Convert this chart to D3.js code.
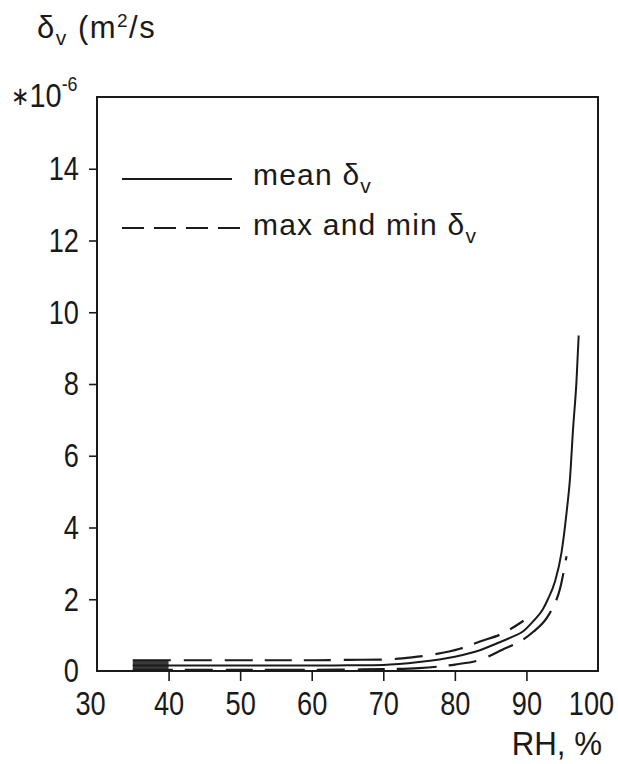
<!DOCTYPE html>
<html>
<head>
<meta charset="utf-8">
<script src="https://cdn.jsdelivr.net/npm/d3@7"></script>
<style>
  html, body { margin: 0; padding: 0; background: #fff; }
  svg text { font-family: "Liberation Sans", "Arimo", "DejaVu Sans", sans-serif; fill: #1a1a1a; }
</style>
</head>
<body>
<svg id="chart" width="618" height="764"></svg>
<script>
// Vapour diffusivity δv (×10⁻⁶ m²/s) against relative humidity
const xTicks = [30, 40, 50, 60, 70, 80, 90, 100];
const yTicks = [0, 2, 4, 6, 8, 10, 12, 14];

const meanRH = [35, 40, 45, 50, 55, 60, 65, 70, 75, 80, 83.5, 86, 88, 89.5, 91, 92.3, 93, 94, 94.9, 95.6, 96.1, 96.5, 97, 97.3];
const meanDv = [0.15, 0.15, 0.15, 0.15, 0.15, 0.15, 0.16, 0.17, 0.25, 0.4, 0.58, 0.78, 0.95, 1.1, 1.4, 1.72, 2.0, 2.5, 3.3, 4.4, 5.4, 6.7, 8.1, 9.35];

const maxRH = [35, 40, 45, 50, 55, 60, 65, 70, 74, 77, 80.7, 83.5, 86.7, 89.6];
const maxDv = [0.3, 0.3, 0.3, 0.3, 0.3, 0.3, 0.31, 0.32, 0.38, 0.46, 0.62, 0.82, 1.05, 1.4];

const minRH = [35, 40, 45, 50, 55, 60, 65, 70, 75, 80, 83.5, 86.7, 89.5, 91, 92.8, 93.5, 94.7, 95.6];
const minDv = [0.03, 0.03, 0.03, 0.03, 0.03, 0.03, 0.04, 0.05, 0.08, 0.18, 0.31, 0.6, 0.87, 1.1, 1.47, 1.7, 2.3, 3.2];

const legendLabels = ["mean", "max and min"];

const svg = d3.select("#chart");
const x = d3.scaleLinear().domain([30, 100]).range([97, 598]);
const y = d3.scaleLinear().domain([0, 16]).range([671, 97]);

const ink = "#1a1a1a";

// squeeze text horizontally about its anchor point (condensed lettering)
function narrow(sel, s) {
  sel.each(function () {
    const t = d3.select(this);
    const ax = +t.attr("x") || 0;
    t.attr("transform", `translate(${ax},0) scale(${s},1) translate(${-ax},0)`);
  });
}

// plot frame
svg.append("rect")
  .attr("x", x(30)).attr("y", y(16))
  .attr("width", x(100) - x(30)).attr("height", y(0) - y(16))
  .attr("fill", "none").attr("stroke", ink).attr("stroke-width", 2);

// x axis: outward ticks on the inner values, labels below
const xAxis = svg.append("g").attr("transform", `translate(0,${y(0)})`)
  .call(d3.axisBottom(x).tickValues(xTicks).tickSize(10).tickPadding(10).tickFormat(d3.format("d")));
xAxis.select(".domain").remove();
xAxis.selectAll(".tick line").attr("stroke", ink).attr("stroke-width", 1.6)
  .attr("display", d => (d === 30 || d === 100) ? "none" : null);
xAxis.selectAll(".tick text").attr("font-size", 34).attr("fill", ink)
  .attr("x", d => (d === 30 || d === 100) ? -7 : 0)
  .call(narrow, 0.8);

// y axis
const yAxis = svg.append("g").attr("transform", `translate(${x(30)},0)`)
  .call(d3.axisLeft(y).tickValues(yTicks).tickSize(8).tickPadding(10).tickFormat(d3.format("d")));
yAxis.select(".domain").remove();
yAxis.selectAll(".tick line").attr("stroke", ink).attr("stroke-width", 1.6)
  .attr("display", d => d === 0 ? "none" : null);
yAxis.selectAll(".tick text").attr("font-size", 34).attr("fill", ink).call(narrow, 0.8);

// curves
const toPts = (xs, ys) => xs.map((v, i) => [v, ys[i]]);
const line = d3.line().x(d => x(d[0])).y(d => y(d[1])).curve(d3.curveMonotoneX);

const meanPts = toPts(meanRH, meanDv);
const maxPts = toPts(maxRH, maxDv);
const minPts = toPts(minRH, minDv);

// dense overlap of the three traces at the low-humidity start
const startBand = d3.area()
  .x(d => x(d[0])).y0(d => y(d[1][0])).y1(d => y(d[1][1]));
const bandData = maxPts.filter(d => d[0] <= 40.5).map((d, i) => [d[0], [minDv[i], d[1]]]);
svg.append("path").datum(bandData).attr("d", startBand).attr("fill", "#3a3a3a");

svg.append("path").datum(meanPts).attr("d", line)
  .attr("fill", "none").attr("stroke", ink).attr("stroke-width", 2);
svg.append("path").datum(maxPts).attr("d", line)
  .attr("fill", "none").attr("stroke", ink).attr("stroke-width", 2.2)
  .attr("stroke-dasharray", "38,13,28,13,28,12,27,12,27,13");
svg.append("path").datum(minPts).attr("d", line)
  .attr("fill", "none").attr("stroke", ink).attr("stroke-width", 2.2)
  .attr("stroke-dasharray", "40,12,28,13,27,12");

// legend
const leg = svg.append("g");
leg.append("line").attr("x1", 122).attr("x2", 232).attr("y1", 179).attr("y2", 179)
  .attr("stroke", ink).attr("stroke-width", 1.8);
leg.append("line").attr("x1", 122).attr("x2", 240).attr("y1", 228).attr("y2", 228)
  .attr("stroke", ink).attr("stroke-width", 1.8).attr("stroke-dasharray", "22,10");

const legendRows = [185, 235];
legendLabels.forEach((lab, i) => {
  const t = leg.append("text").attr("x", 253).attr("y", legendRows[i])
    .attr("font-size", 30).attr("letter-spacing", 1.2);
  t.append("tspan").text(lab + " δ");
  t.append("tspan").attr("dy", 8).attr("font-size", 21).text("v");
});

// y-axis quantity and unit
const title = svg.append("text").attr("x", 37).attr("y", 38).attr("font-size", 31).attr("letter-spacing", 1.5);
title.append("tspan").text("δ");
title.append("tspan").attr("dy", 7).attr("font-size", 21).text("v");
title.append("tspan").attr("dy", -7).text(" (m");
title.append("tspan").attr("dy", -11).attr("font-size", 19).text("2");
title.append("tspan").attr("dy", 11).text("/s");

const mult = svg.append("text").attr("x", 11).attr("y", 107).attr("font-size", 34);
mult.append("tspan").attr("font-family", "DejaVu Sans").attr("font-size", 26).attr("dy", -2).text("∗");
mult.append("tspan").attr("dy", 2).text("10");
mult.append("tspan").attr("dy", -16).attr("font-size", 21).text("-6");
mult.call(narrow, 0.85);

// x-axis quantity
svg.append("text").attr("x", 602).attr("y", 755).attr("text-anchor", "end")
  .attr("font-size", 34).text("RH, %").call(narrow, 0.92);
</script>
</body>
</html>
